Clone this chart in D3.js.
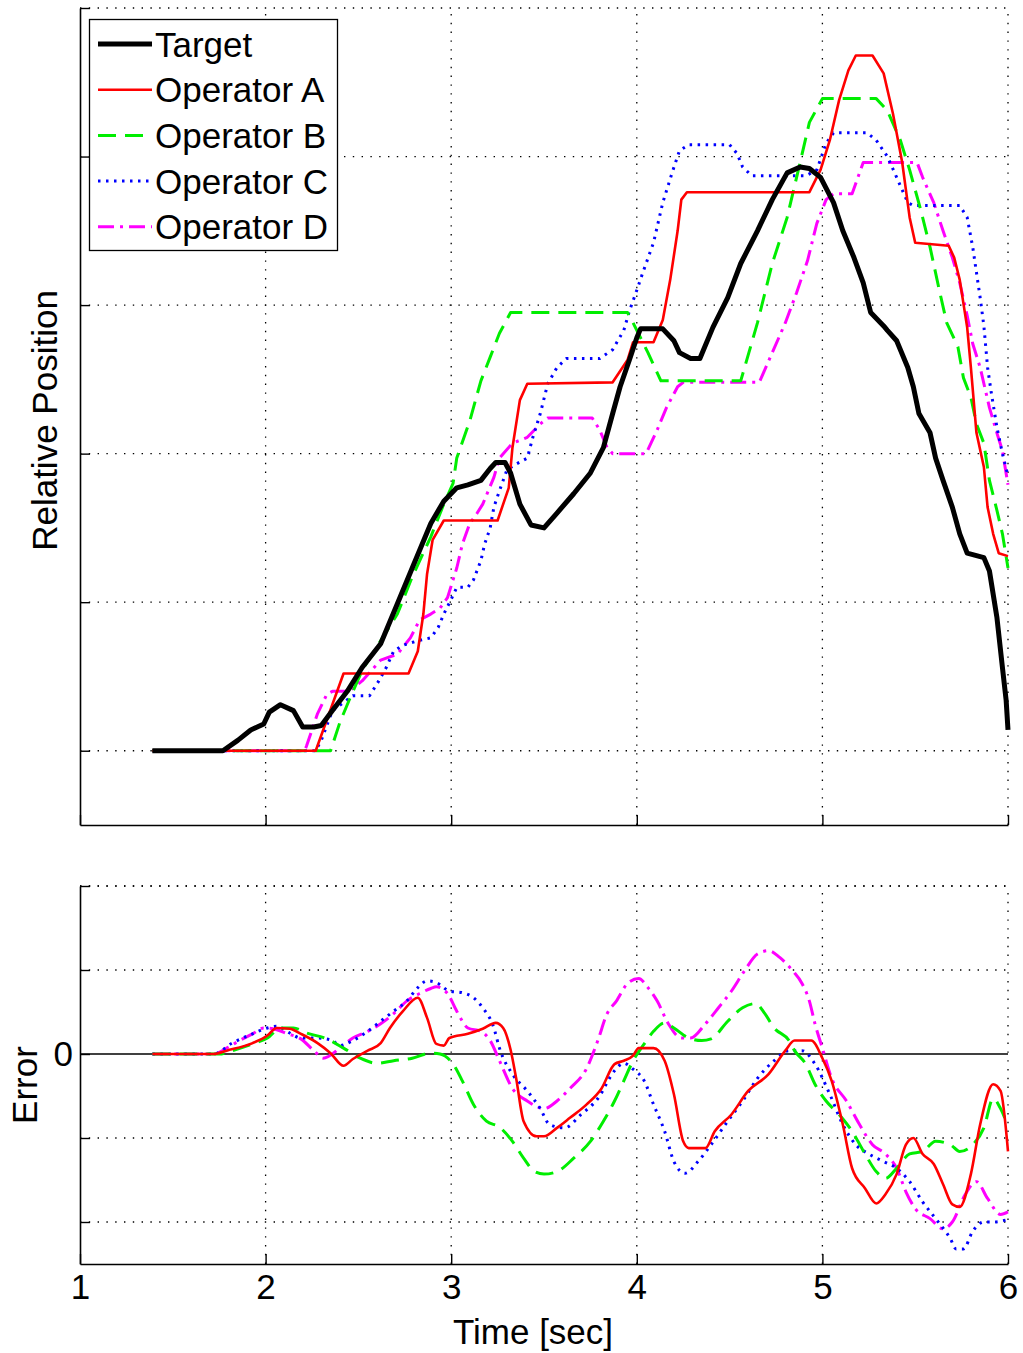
<!DOCTYPE html>
<html>
<head>
<meta charset="utf-8">
<script src="https://cdn.jsdelivr.net/npm/d3@7"></script>
<style>
  html, body { margin: 0; padding: 0; background: #fff; }
  svg text { font-family: "Liberation Sans", Arial, Helvetica, sans-serif; fill: #000; }
</style>
</head>
<body>
<svg id="chart" width="1023" height="1353"></svg>
<script>
// ---- tracking run: time [sec] vs relative position (grid units) ----
const targetPos = [[1.39,0],[1.77,0],[1.85,0.07],[1.92,0.14],[1.99,0.18],[2.02,0.26],[2.08,0.31],[2.15,0.27],[2.20,0.16],[2.26,0.16],[2.30,0.17],[2.36,0.27],[2.44,0.40],[2.52,0.56],[2.62,0.72],[2.71,0.99],[2.79,1.23],[2.89,1.53],[2.96,1.68],[3.03,1.77],[3.09,1.79],[3.16,1.82],[3.21,1.90],[3.24,1.94],[3.29,1.94],[3.32,1.87],[3.37,1.66],[3.43,1.52],[3.50,1.50],[3.57,1.60],[3.66,1.73],[3.75,1.87],[3.82,2.04],[3.87,2.27],[3.91,2.45],[3.96,2.63],[4.00,2.78],[4.02,2.84],[4.14,2.84],[4.20,2.76],[4.23,2.68],[4.29,2.64],[4.34,2.64],[4.41,2.85],[4.49,3.05],[4.56,3.28],[4.65,3.50],[4.73,3.71],[4.81,3.89],[4.88,3.93],[4.93,3.92],[4.99,3.86],[5.06,3.69],[5.11,3.50],[5.17,3.32],[5.22,3.15],[5.26,2.95],[5.33,2.86],[5.35,2.83],[5.40,2.76],[5.46,2.58],[5.49,2.45],[5.52,2.27],[5.58,2.14],[5.61,1.97],[5.65,1.82],[5.70,1.64],[5.74,1.46],[5.78,1.33],[5.87,1.30],[5.90,1.21],[5.94,0.90],[5.97,0.56],[5.99,0.34],[6.00,0.14]];

const operatorAPos = [[1.39,0],[2.27,0],[2.42,0.52],[2.77,0.52],[2.82,0.67],[2.85,0.92],[2.87,1.19],[2.90,1.42],[2.96,1.55],[3.25,1.55],[3.31,1.77],[3.33,2.04],[3.37,2.36],[3.41,2.47],[3.87,2.48],[3.95,2.63],[3.98,2.75],[4.09,2.75],[4.14,2.90],[4.18,3.17],[4.22,3.50],[4.24,3.71],[4.27,3.76],[4.93,3.76],[4.99,3.91],[5.04,4.11],[5.09,4.38],[5.14,4.58],[5.18,4.68],[5.27,4.68],[5.33,4.56],[5.38,4.29],[5.43,3.96],[5.47,3.59],[5.50,3.42],[5.68,3.40],[5.71,3.32],[5.74,3.17],[5.78,2.85],[5.80,2.58],[5.83,2.14],[5.87,1.91],[5.89,1.64],[5.92,1.46],[5.95,1.33],[6.00,1.31]];

const operatorBPos = [[1.39,0],[2.35,0],[2.40,0.19],[2.45,0.34],[2.52,0.54],[2.62,0.74],[2.71,0.92],[2.79,1.17],[2.89,1.44],[2.96,1.66],[3.01,1.80],[3.03,1.97],[3.10,2.22],[3.16,2.49],[3.21,2.65],[3.26,2.81],[3.32,2.95],[3.95,2.95],[3.98,2.88],[4.06,2.68],[4.13,2.49],[4.56,2.49],[4.65,2.88],[4.73,3.28],[4.81,3.59],[4.88,3.96],[4.93,4.23],[5.00,4.39],[5.29,4.39],[5.35,4.31],[5.42,4.11],[5.47,3.91],[5.53,3.64],[5.58,3.39],[5.63,3.10],[5.67,2.88],[5.73,2.72],[5.76,2.51],[5.80,2.38],[5.83,2.20],[5.87,2.07],[5.90,1.82],[5.94,1.62],[5.97,1.46],[6.00,1.23]];

const operatorCPos = [[1.39,0],[2.27,0],[2.30,0.07],[2.36,0.27],[2.47,0.37],[2.56,0.37],[2.61,0.47],[2.65,0.56],[2.69,0.67],[2.74,0.71],[2.82,0.74],[2.89,0.76],[2.93,0.83],[2.96,0.92],[3.00,1.02],[3.03,1.10],[3.09,1.10],[3.12,1.15],[3.16,1.28],[3.18,1.39],[3.21,1.50],[3.23,1.64],[3.26,1.75],[3.30,1.89],[3.35,1.93],[3.41,1.97],[3.44,2.11],[3.48,2.27],[3.52,2.47],[3.57,2.58],[3.62,2.64],[3.80,2.64],[3.87,2.70],[3.93,2.83],[3.96,2.96],[4.00,3.10],[4.03,3.21],[4.09,3.42],[4.14,3.69],[4.19,3.89],[4.23,4.04],[4.28,4.08],[4.50,4.08],[4.54,4.02],[4.57,3.93],[4.62,3.87],[4.91,3.87],[4.97,3.91],[5.02,4.09],[5.06,4.16],[5.24,4.16],[5.29,4.11],[5.35,4.00],[5.40,3.86],[5.46,3.69],[5.49,3.67],[5.74,3.67],[5.78,3.59],[5.81,3.39],[5.85,3.05],[5.87,2.86],[5.89,2.58],[5.91,2.41],[5.94,2.18],[5.97,2.00],[6.00,1.85]];

const operatorDPos = [[1.39,0],[2.21,0],[2.22,0.03],[2.28,0.25],[2.33,0.38],[2.36,0.40],[2.45,0.40],[2.52,0.47],[2.62,0.61],[2.71,0.65],[2.78,0.76],[2.83,0.88],[2.89,0.92],[2.94,0.96],[2.98,1.03],[3.01,1.15],[3.03,1.23],[3.06,1.39],[3.10,1.53],[3.14,1.60],[3.17,1.66],[3.23,1.84],[3.26,1.97],[3.33,2.07],[3.41,2.11],[3.48,2.20],[3.52,2.24],[3.76,2.24],[3.80,2.16],[3.84,2.04],[3.87,2.00],[4.05,2.00],[4.11,2.16],[4.16,2.31],[4.22,2.45],[4.25,2.48],[4.66,2.48],[4.80,2.88],[4.86,3.08],[4.92,3.30],[4.97,3.55],[5.02,3.71],[5.06,3.75],[5.16,3.75],[5.22,3.96],[5.51,3.96],[5.54,3.86],[5.60,3.69],[5.65,3.50],[5.70,3.32],[5.74,3.15],[5.78,2.93],[5.81,2.74],[5.85,2.58],[5.90,2.31],[5.94,2.14],[5.97,2.02],[6.00,1.79]];

// ---- tracking error of each operator (grid units) ----
const errorA = [[1.39,0],[1.72,0],[1.79,0.04],[1.93,0.13],[2.01,0.22],[2.06,0.31],[2.13,0.30],[2.19,0.24],[2.28,0.13],[2.35,0.01],[2.42,-0.14],[2.47,-0.06],[2.55,0.04],[2.62,0.13],[2.67,0.31],[2.74,0.51],[2.82,0.67],[2.87,0.43],[2.92,0.12],[2.96,0.10],[2.99,0.19],[3.09,0.24],[3.17,0.30],[3.24,0.37],[3.28,0.31],[3.32,0.05],[3.35,-0.29],[3.39,-0.80],[3.46,-0.98],[3.50,-0.98],[3.57,-0.88],[3.64,-0.76],[3.73,-0.60],[3.81,-0.41],[3.88,-0.12],[3.93,-0.08],[3.98,-0.02],[4.01,0.07],[4.09,0.07],[4.15,-0.08],[4.20,-0.48],[4.25,-1.04],[4.28,-1.12],[4.37,-1.12],[4.42,-0.92],[4.51,-0.72],[4.60,-0.44],[4.71,-0.24],[4.80,0.04],[4.85,0.16],[4.94,0.16],[5.00,-0.05],[5.05,-0.32],[5.11,-0.84],[5.16,-1.36],[5.23,-1.60],[5.29,-1.78],[5.34,-1.67],[5.40,-1.43],[5.45,-1.08],[5.49,-1.00],[5.54,-1.19],[5.60,-1.31],[5.65,-1.55],[5.70,-1.79],[5.74,-1.82],[5.80,-1.43],[5.85,-0.84],[5.92,-0.36],[5.96,-0.44],[6.00,-1.16]];

const errorB = [[1.39,0],[1.75,0],[1.82,0.04],[1.93,0.12],[2.01,0.19],[2.08,0.31],[2.15,0.31],[2.22,0.25],[2.33,0.18],[2.42,0.07],[2.51,-0.05],[2.60,-0.11],[2.69,-0.08],[2.79,-0.05],[2.89,0.01],[2.94,0.00],[3.01,-0.12],[3.06,-0.32],[3.12,-0.60],[3.19,-0.80],[3.26,-0.87],[3.33,-1.04],[3.39,-1.24],[3.45,-1.40],[3.50,-1.43],[3.57,-1.40],[3.66,-1.24],[3.75,-1.04],[3.82,-0.80],[3.88,-0.56],[3.93,-0.32],[3.98,-0.08],[4.04,0.12],[4.09,0.27],[4.15,0.37],[4.20,0.31],[4.28,0.19],[4.35,0.16],[4.40,0.18],[4.49,0.39],[4.57,0.55],[4.64,0.60],[4.69,0.48],[4.74,0.31],[4.82,0.16],[4.85,0.04],[4.91,-0.12],[4.96,-0.36],[5.02,-0.56],[5.09,-0.72],[5.16,-0.92],[5.23,-1.19],[5.29,-1.40],[5.34,-1.48],[5.40,-1.36],[5.47,-1.19],[5.54,-1.16],[5.61,-1.04],[5.69,-1.08],[5.74,-1.16],[5.81,-1.08],[5.87,-0.88],[5.92,-0.53],[5.96,-0.65],[6.00,-0.86]];

const errorC = [[1.39,0],[1.72,0],[1.82,0.13],[1.93,0.24],[2.01,0.31],[2.06,0.33],[2.13,0.25],[2.19,0.19],[2.28,0.19],[2.36,0.16],[2.40,0.10],[2.47,0.16],[2.55,0.27],[2.62,0.39],[2.69,0.51],[2.76,0.63],[2.82,0.79],[2.87,0.87],[2.92,0.85],[2.99,0.75],[3.06,0.73],[3.12,0.67],[3.17,0.55],[3.23,0.31],[3.26,0.07],[3.33,-0.24],[3.41,-0.44],[3.48,-0.65],[3.53,-0.84],[3.61,-0.88],[3.70,-0.72],[3.79,-0.53],[3.88,-0.20],[3.93,-0.11],[3.98,-0.18],[4.04,-0.32],[4.09,-0.60],[4.15,-0.92],[4.20,-1.28],[4.26,-1.42],[4.33,-1.28],[4.40,-1.08],[4.49,-0.80],[4.57,-0.56],[4.65,-0.29],[4.74,-0.08],[4.82,0.04],[4.89,0.04],[4.96,-0.12],[5.04,-0.48],[5.11,-0.84],[5.18,-1.08],[5.25,-1.19],[5.33,-1.28],[5.40,-1.36],[5.47,-1.52],[5.54,-1.76],[5.61,-1.96],[5.69,-2.20],[5.72,-2.32],[5.76,-2.32],[5.81,-2.11],[5.87,-2.00],[5.92,-2.00],[6.00,-1.97]];

const errorD = [[1.39,0],[1.72,0],[1.79,0.07],[1.86,0.16],[1.93,0.24],[1.99,0.31],[2.04,0.30],[2.12,0.24],[2.19,0.18],[2.26,0.04],[2.31,-0.05],[2.40,0.07],[2.47,0.19],[2.55,0.27],[2.62,0.36],[2.69,0.48],[2.76,0.63],[2.83,0.72],[2.89,0.78],[2.92,0.80],[2.98,0.72],[3.03,0.51],[3.09,0.31],[3.16,0.27],[3.21,0.16],[3.26,-0.08],[3.33,-0.41],[3.41,-0.56],[3.50,-0.65],[3.57,-0.56],[3.64,-0.41],[3.73,-0.17],[3.79,0.16],[3.84,0.48],[3.89,0.63],[3.95,0.84],[4.01,0.90],[4.06,0.79],[4.11,0.63],[4.17,0.36],[4.24,0.19],[4.29,0.19],[4.37,0.36],[4.44,0.55],[4.51,0.75],[4.58,0.99],[4.65,1.19],[4.71,1.23],[4.77,1.15],[4.84,0.99],[4.89,0.84],[4.93,0.63],[4.96,0.36],[5.00,0.07],[5.05,-0.29],[5.13,-0.56],[5.20,-0.84],[5.27,-1.08],[5.34,-1.19],[5.40,-1.36],[5.45,-1.64],[5.50,-1.84],[5.58,-1.96],[5.65,-2.08],[5.70,-2.00],[5.77,-1.67],[5.83,-1.52],[5.89,-1.72],[5.96,-1.91],[6.00,-1.88]];

const seriesNames = ["Target", "Operator A", "Operator B", "Operator C", "Operator D"];
const timeTicks = [1, 2, 3, 4, 5, 6];
const positionTicks = [0, 1, 2, 3, 4, 5];
const errorTicks = [-2, -1, 0, 1, 2];
const errorTickLabels = { "0": "0" };

// ---- line styles ----
const styles = {
  "Target":     { color: "#000000", width: 5,   dash: null },
  "Operator A": { color: "#ff0000", width: 2.6, dash: null },
  "Operator B": { color: "#00ee00", width: 3,   dash: "18,9" },
  "Operator C": { color: "#0000ff", width: 3,   dash: "2.5,5.5" },
  "Operator D": { color: "#ff00ff", width: 3,   dash: "16,6,3,6" }
};

const svg = d3.select("#chart");
const FONT = 35;

const x = d3.scaleLinear().domain([1, 6]).range([80, 1008]);
const yPos = d3.scaleLinear().domain([-0.5, 5]).range([825, 8]);
const yErr = d3.scaleLinear().domain([-2.5, 2]).range([1264, 886]);

function grid(g, yScale, yVals) {
  const [yb, yt] = yScale.range();
  const gg = g.append("g")
    .attr("stroke", "#000").attr("stroke-width", 1.3)
    .attr("stroke-dasharray", "1.4,7.4");
  timeTicks.filter(t => t > 1).forEach(t => {
    gg.append("line").attr("x1", x(t)).attr("x2", x(t)).attr("y1", yb).attr("y2", yt);
  });
  yVals.forEach(v => {
    gg.append("line").attr("x1", x(1)).attr("x2", x(6)).attr("y1", yScale(v)).attr("y2", yScale(v));
  });
}

function drawLine(g, data, yScale, name, curve) {
  const s = styles[name];
  const gen = d3.line().x(d => x(d[0])).y(d => yScale(d[1])).curve(curve);
  const p = g.append("path")
    .datum(data)
    .attr("d", gen)
    .attr("fill", "none")
    .attr("stroke", s.color)
    .attr("stroke-width", s.width)
    .attr("stroke-linejoin", "round");
  if (s.dash) p.attr("stroke-dasharray", s.dash);
  return p;
}

function axes(g, yScale, yVals, showTimeLabels, yFormat) {
  const xa = d3.axisBottom(x).tickValues(timeTicks).tickSizeInner(-10).tickSizeOuter(0)
    .tickPadding(10).tickFormat(showTimeLabels ? d3.format("d") : () => "");
  const ya = d3.axisLeft(yScale).tickValues(yVals).tickSizeInner(-10).tickSizeOuter(0)
    .tickPadding(7).tickFormat(yFormat);
  const gx = g.append("g").attr("transform", `translate(0,${yScale.range()[0]})`).call(xa);
  const gy = g.append("g").attr("transform", `translate(${x(1)},0)`).call(ya);
  [gx, gy].forEach(a => {
    a.select(".domain").attr("stroke", "#000").attr("stroke-width", 1.6);
    a.selectAll(".tick line").attr("stroke", "#000").attr("stroke-width", 1.4);
    a.selectAll(".tick text").attr("font-size", FONT).attr("font-family", null).attr("fill", "#000");
  });
}

// ---- upper panel: positions ----
const upperPanel = svg.append("g");
grid(upperPanel, yPos, positionTicks);
drawLine(upperPanel, operatorDPos, yPos, "Operator D", d3.curveLinear);
drawLine(upperPanel, operatorCPos, yPos, "Operator C", d3.curveLinear);
drawLine(upperPanel, operatorBPos, yPos, "Operator B", d3.curveLinear);
drawLine(upperPanel, operatorAPos, yPos, "Operator A", d3.curveLinear);
drawLine(upperPanel, targetPos, yPos, "Target", d3.curveLinear);
axes(upperPanel, yPos, positionTicks, false, () => "");

upperPanel.append("text")
  .attr("transform", `translate(57,${(yPos(-0.5) + yPos(5)) / 2 + 4}) rotate(-90)`)
  .attr("text-anchor", "middle")
  .attr("font-size", FONT)
  .text("Relative Position");

// ---- legend ----
const legend = svg.append("g");
legend.append("rect")
  .attr("x", 89.5).attr("y", 19.5).attr("width", 248).attr("height", 231)
  .attr("fill", "#fff").attr("stroke", "#000").attr("stroke-width", 1.3);
seriesNames.forEach((name, i) => {
  const yy = 44 + i * 45.7;
  const s = styles[name];
  const l = legend.append("line")
    .attr("x1", 98).attr("x2", 152).attr("y1", yy).attr("y2", yy)
    .attr("stroke", s.color).attr("stroke-width", s.width);
  if (s.dash) l.attr("stroke-dasharray", s.dash);
  legend.append("text")
    .attr("x", 155).attr("y", yy)
    .attr("dominant-baseline", "central")
    .attr("font-size", FONT)
    .text(name);
});

// ---- lower panel: errors ----
const lowerPanel = svg.append("g");
grid(lowerPanel, yErr, errorTicks.filter(v => v !== 0).concat([2]));
lowerPanel.append("line")
  .attr("x1", x(1)).attr("x2", x(6)).attr("y1", yErr(0)).attr("y2", yErr(0))
  .attr("stroke", "#000").attr("stroke-width", 1.6);
drawLine(lowerPanel, errorD, yErr, "Operator D", d3.curveMonotoneX);
drawLine(lowerPanel, errorC, yErr, "Operator C", d3.curveMonotoneX);
drawLine(lowerPanel, errorB, yErr, "Operator B", d3.curveMonotoneX);
drawLine(lowerPanel, errorA, yErr, "Operator A", d3.curveMonotoneX);
axes(lowerPanel, yErr, errorTicks, true, d => errorTickLabels[String(d)] || "");

lowerPanel.append("text")
  .attr("transform", `translate(37,${(yErr(-2.5) + yErr(2)) / 2 + 10}) rotate(-90)`)
  .attr("text-anchor", "middle")
  .attr("font-size", FONT)
  .text("Error");

svg.append("text")
  .attr("x", 533).attr("y", 1344)
  .attr("text-anchor", "middle")
  .attr("font-size", FONT)
  .text("Time [sec]");
</script>
</body>
</html>
